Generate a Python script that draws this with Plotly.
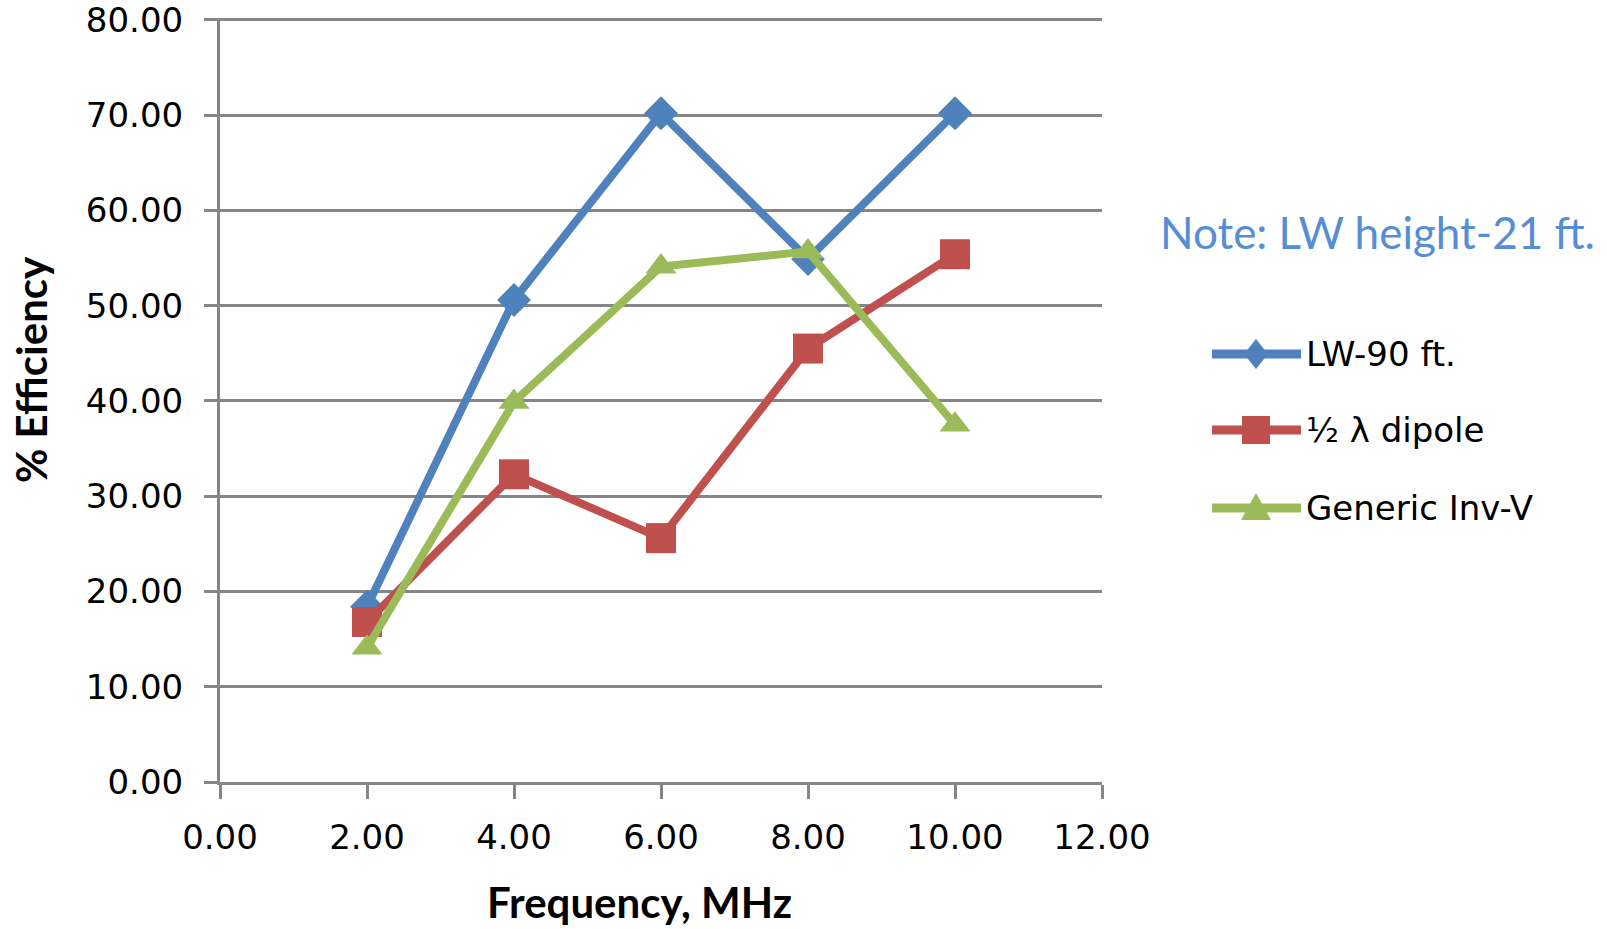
import plotly.graph_objects as go

# ---- data ----
freq = [2.0, 4.0, 6.0, 8.0, 10.0]
lw_90 = [18.4, 50.6, 70.2, 54.9, 70.2]
dipole = [16.8, 32.3, 25.6, 45.5, 55.4]
inv_v = [14.1, 39.9, 54.1, 55.7, 37.5]

series_names = ["LW-90 ft.", "½ λ dipole", "Generic Inv-V"]
colors = ["#4F81BD", "#C0504D", "#9BBB59"]
symbols = ["diamond", "square", "triangle-up"]
sizes = [26, 30, 27]

x_ticks = [0, 2, 4, 6, 8, 10, 12]
y_ticks = [0, 10, 20, 30, 40, 50, 60, 70, 80]

W, H = 1607, 929
L, R, T, B = 220, 505, 18, 147
PW, PH = W - L - R, H - T - B


def px(xp):
    return (xp - L) / PW


def py(yp):
    return (H - B - yp) / PH


GRID = "#868686"
TICKFONT = dict(family="DejaVu Sans", size=34, color="black")

fig = go.Figure()
for name, vals, c, s, sz in zip(series_names, [lw_90, dipole, inv_v], colors, symbols, sizes):
    fig.add_trace(go.Scatter(
        x=freq, y=vals, name=name, mode="lines+markers",
        line=dict(color=c, width=8),
        marker=dict(symbol=s, size=sz, color=c, line=dict(width=0)),
        showlegend=False,
        cliponaxis=False,
    ))

fig.update_xaxes(
    range=[0, 12], tickvals=x_ticks, ticktext=[f"{v:.2f}" for v in x_ticks],
    showgrid=False, zeroline=False, showline=True, linecolor=GRID, linewidth=3,
    ticks="outside", ticklen=14, tickwidth=3, tickcolor=GRID,
    tickfont=TICKFONT, ticklabelstandoff=9, ticklabeloverflow="allow",
)
fig.update_yaxes(
    range=[0, 80.2], tickvals=y_ticks, ticktext=[f"{v:.2f}" for v in y_ticks],
    showgrid=True, gridcolor=GRID, gridwidth=3, zeroline=False,
    showline=True, linecolor=GRID, linewidth=3,
    ticks="outside", ticklen=13, tickwidth=3, tickcolor=GRID,
    tickfont=TICKFONT, ticklabelstandoff=14, ticklabeloverflow="allow",
)

annotations = [
    dict(text="<b>Frequency, MHz</b>", x=px(639), y=py(929), xref="paper", yref="paper",
         showarrow=False, xanchor="center", yanchor="bottom",
         font=dict(family="Lato", size=42, color="black")),
    dict(text="<b>% Efficiency</b>", x=px(31), y=py(370), xref="paper", yref="paper",
         showarrow=False, xanchor="center", yanchor="middle", textangle=-90,
         font=dict(family="Lato", size=42, color="black")),
    dict(text="Note: LW height-21 ft.", x=px(1158), y=py(232), xref="paper", yref="paper",
         showarrow=False, xanchor="left", yanchor="middle",
         font=dict(family="Lato", size=44, color="#558ED5")),
]

# custom legend (keys drawn as shapes, labels as text)
leg_rows = [354, 430, 508]
shapes = []
for name, c, s, yrow in zip(series_names, colors, symbols, leg_rows):
    shapes.append(dict(type="line", xref="paper", yref="paper",
                       x0=px(1212), x1=px(1301), y0=py(yrow), y1=py(yrow),
                       line=dict(color=c, width=9)))
    cx = px(1256)
    cy = py(yrow)
    if s == "square":
        path = "M-14,-14 L14,-14 L14,14 L-14,14 Z"
    elif s == "diamond":
        path = "M0,-15 L12,0 L0,15 L-12,0 Z"
    else:
        path = "M-15,-12 L15,-12 L0,15 Z"
    shapes.append(dict(type="path", xref="paper", yref="paper",
                       xsizemode="pixel", ysizemode="pixel", xanchor=cx, yanchor=cy,
                       path=path, fillcolor=c, line=dict(width=0)))
    annotations.append(dict(text=name, x=px(1304), y=cy, xref="paper", yref="paper",
                            showarrow=False, xanchor="left", yanchor="middle",
                            font=dict(family="DejaVu Sans", size=34, color="black")))

fig.update_layout(
    width=W, height=H,
    margin=dict(l=L, r=R, t=T, b=B, autoexpand=False),
    paper_bgcolor="white", plot_bgcolor="white",
    showlegend=False,
    annotations=annotations, shapes=shapes,
)

fig.write_html("out.html")
